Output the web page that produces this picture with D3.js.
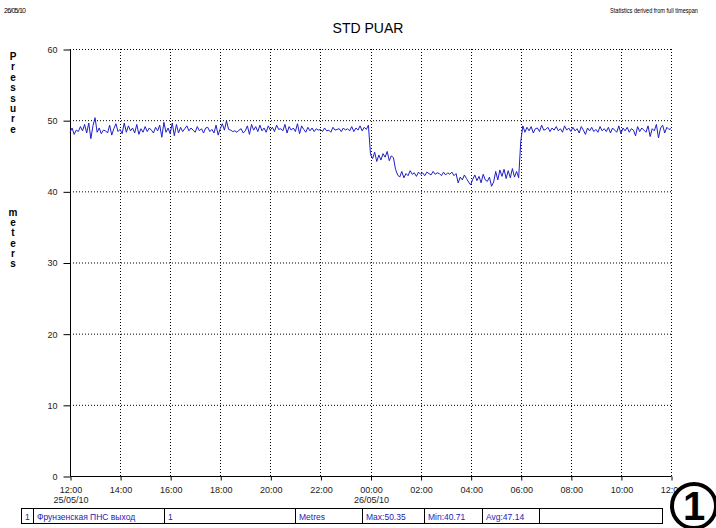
<!DOCTYPE html>
<html lang="en">
<head>
<meta charset="UTF-8">
<title>STD PUAR</title>
<script src="https://d3js.org/d3.v7.min.js"></script>
<style>
  body { margin: 0; background: #fff; }
  svg text { font-family: "Liberation Sans", Arial, sans-serif; }
  .grid line { stroke: #000; stroke-dasharray: 1,2; }
  .tick-label { font-size: 9px; fill: #222; }
  .cell text { font-size: 8.5px; fill: #2323b4; }
</style>
</head>
<body>
<svg width="716" height="528"></svg>
<script>
// Pressure readings every 5 minutes, from 12:00 25/05/10 to 12:00 26/05/10
const startTime = new Date(2010, 4, 25, 12, 0);
const stepMinutes = 5;
const pressure = [
  48.3, 48.9, 48.0, 48.6, 48.4, 49.1, 48.5, 49.4, 48.2, 49.6, 47.4, 49.2,
  50.35, 48.3, 48.9, 48.1, 48.6, 48.5, 48.2, 49.3, 47.9, 48.8, 49.5, 48.4,
  48.7, 48.1, 49.6, 48.3, 49.2, 48.5, 48.9, 48.2, 49.4, 48.0, 48.8, 48.3,
  49.1, 48.4, 48.9, 48.6, 48.2, 49.0, 48.5, 49.3, 47.6, 49.7, 48.3, 48.9,
  48.1, 49.6, 47.8, 49.4, 48.2, 49.0, 48.4, 48.8, 49.2, 48.5, 48.9, 48.6,
  48.3, 49.1, 48.5, 48.8, 48.2, 48.9, 49.0, 48.4, 48.7, 48.2, 49.3, 47.9,
  48.8, 49.5, 48.6, 49.9, 48.7, 48.6, 48.4, 48.5, 48.3, 48.6, 48.8, 48.2,
  48.5, 49.2, 48.0, 49.4, 48.6, 49.1, 48.4, 49.3, 48.5, 48.9, 48.3, 49.2,
  48.6, 49.0, 48.4, 49.3, 48.7, 48.8, 48.5, 49.4, 48.2, 49.1, 48.6, 48.9,
  48.4, 49.5, 48.1, 49.2, 48.7, 48.3, 49.0, 48.5, 48.9, 48.4, 48.8, 48.6,
  48.7, 48.4, 48.9, 48.5, 48.6, 48.3, 49.0, 48.6, 48.7, 48.8, 48.4, 48.9,
  48.6, 48.8, 48.5, 49.1, 48.4, 48.9, 48.6, 49.2, 48.5, 49.0, 48.7, 49.3,
  45.2, 44.6, 45.5, 44.2, 45.1, 44.4, 45.3, 44.8, 45.6, 44.3, 45.0, 44.7,
  43.1, 42.3, 42.0, 42.8, 41.9, 42.5, 42.2, 42.9, 42.4, 42.6, 42.1, 42.7,
  42.4, 42.6, 42.2, 42.7, 42.5, 42.3, 42.8, 42.4, 42.6, 42.5, 42.2, 42.7,
  42.3, 42.6, 42.4, 42.7, 42.2, 42.5, 41.2, 42.0, 41.6, 42.3, 41.8, 41.3,
  40.9, 41.7, 42.3, 41.5, 42.1, 41.2, 42.4, 41.6, 41.4, 42.0, 40.71, 41.3,
  42.8, 41.6, 43.0, 42.1, 43.1, 41.8, 42.9, 41.9, 43.2, 42.0, 42.8, 41.9,
  47.0, 49.2, 48.3, 49.0, 48.5, 49.1, 48.2, 48.8, 48.9, 48.4, 49.3, 48.6,
  48.7, 49.0, 48.4, 48.9, 48.6, 49.1, 48.5, 48.8, 48.3, 49.2, 48.6, 48.9,
  48.4, 49.0, 48.5, 48.8, 48.2, 49.1, 48.6, 48.0, 48.9, 48.5, 49.0, 48.4,
  48.7, 48.3, 49.1, 48.5, 48.8, 48.4, 49.0, 48.2, 48.9, 48.6, 48.3, 49.2,
  48.1, 48.9, 48.5, 49.0, 48.3, 48.8, 48.6, 47.8, 49.1, 48.4, 48.9, 48.6,
  48.3, 49.2, 47.7, 48.8, 48.5, 49.4, 47.5, 48.9, 49.3, 48.2, 49.0, 48.7,
  48.8
];
const yTicks = [0, 10, 20, 30, 40, 50, 60];
const xTickLabels = ["12:00", "14:00", "16:00", "18:00", "20:00", "22:00",
                     "00:00", "02:00", "04:00", "06:00", "08:00", "10:00", "12:00"];
const dateLabels = { 0: "25/05/10", 6: "26/05/10" };
const legendCells = ["1", "Фрунзенская ПНС выход", "1", "Metres", "Max:50.35", "Min:40.71", "Avg:47.14", ""];
const legendEdges = [21, 33, 164, 295, 362, 424, 482, 539, 662];

const svg = d3.select("svg");
const plotLeft = 70, plotRight = 671, plotTop = 49, plotBottom = 476;

const endTime = d3.timeHour.offset(startTime, 24);
const x = d3.scaleTime().domain([startTime, endTime]).range([plotLeft, plotRight]);
const y = d3.scaleLinear().domain([0, 60]).range([plotBottom, plotTop]);
const xTicks = d3.range(13).map(i => d3.timeHour.offset(startTime, i * 2));

// header texts
svg.append("text").attr("x", 4).attr("y", 13)
  .attr("font-size", 7).attr("textLength", 22).text("26/05/10");
svg.append("text").attr("x", 368).attr("y", 33)
  .attr("text-anchor", "middle").attr("font-size", 14).text("STD PUAR");
svg.append("g").attr("transform", "translate(610,13) scale(0.8,1)")
  .append("text").attr("font-size", 7)
  .text("Statistics derived from full timespan");

// vertical axis title, stacked letters
const g1 = svg.append("g").attr("font-size", 10).attr("font-weight", "bold")
  .attr("text-anchor", "middle");
"Pressure".split("").forEach((c, i) =>
  g1.append("text").attr("x", 13).attr("y", 60 + i * 10.4).text(c));
"meters".split("").forEach((c, i) =>
  g1.append("text").attr("x", 13).attr("y", 216 + i * 10.2).text(c));

// gridlines
const grid = svg.append("g").attr("class", "grid");
grid.selectAll(".h").data(yTicks.filter(d => d > 0)).join("line")
  .attr("x1", plotLeft).attr("x2", plotRight)
  .attr("y1", d => y(d) + 0.5).attr("y2", d => y(d) + 0.5);
grid.selectAll(".v").data(xTicks.slice(1)).join("line")
  .attr("x1", d => Math.round(x(d)) + 0.5).attr("x2", d => Math.round(x(d)) + 0.5)
  .attr("y1", plotTop).attr("y2", plotBottom);

// y axis
const yAxis = svg.append("g").attr("transform", `translate(${plotLeft + 0.5},0.5)`)
  .call(d3.axisLeft(y).tickValues(yTicks).tickSize(7).tickPadding(6));
yAxis.select(".domain").attr("d", `M0,${plotTop}V${plotBottom}`).attr("stroke", "#000");
yAxis.selectAll("text").attr("class", "tick-label").attr("font-family", null);

// x axis
const xAxis = svg.append("g").attr("transform", `translate(0.5,${plotBottom + 0.5})`)
  .call(d3.axisBottom(x).tickValues(xTicks).tickSize(4).tickPadding(6)
    .tickFormat((d, i) => xTickLabels[i]));
xAxis.select(".domain").attr("d", `M${plotLeft},0H${plotRight}`).attr("stroke", "#000");
xAxis.selectAll("text").attr("class", "tick-label").attr("font-family", null)
  .each(function(d, i) {
    if (dateLabels[i]) {
      d3.select(this).append("tspan").attr("x", 0).attr("dy", "1.15em").text(dateLabels[i]);
    }
  });

// series line
const line = d3.line()
  .x((d, i) => x(d3.timeMinute.offset(startTime, i * stepMinutes)))
  .y(d => y(d));
svg.append("path").datum(pressure)
  .attr("fill", "none").attr("stroke", "#1f1fc8").attr("stroke-width", 1)
  .attr("d", line);

// legend table
const tTop = 508.5, tBot = 523.5;
const cells = svg.append("g").attr("class", "cell");
cells.append("rect").attr("x", legendEdges[0] + 0.5).attr("y", tTop)
  .attr("width", legendEdges[legendEdges.length - 1] - legendEdges[0]).attr("height", tBot - tTop)
  .attr("fill", "none").attr("stroke", "#000");
legendEdges.slice(1, -1).forEach(e =>
  cells.append("line").attr("x1", e + 0.5).attr("x2", e + 0.5)
    .attr("y1", tTop).attr("y2", tBot).attr("stroke", "#000"));
legendCells.forEach((t, i) =>
  cells.append("text").attr("x", legendEdges[i] + 4).attr("y", tBot - 4).text(t));

// circled marker
svg.append("circle").attr("cx", 694).attr("cy", 506).attr("r", 22)
  .attr("fill", "#fff").attr("stroke", "#000").attr("stroke-width", 4);
svg.append("text").attr("x", 694).attr("y", 520).attr("text-anchor", "middle")
  .attr("font-family", "Liberation Serif, serif").attr("font-weight", "bold")
  .attr("font-size", 40).text("1");
</script>
</body>
</html>
